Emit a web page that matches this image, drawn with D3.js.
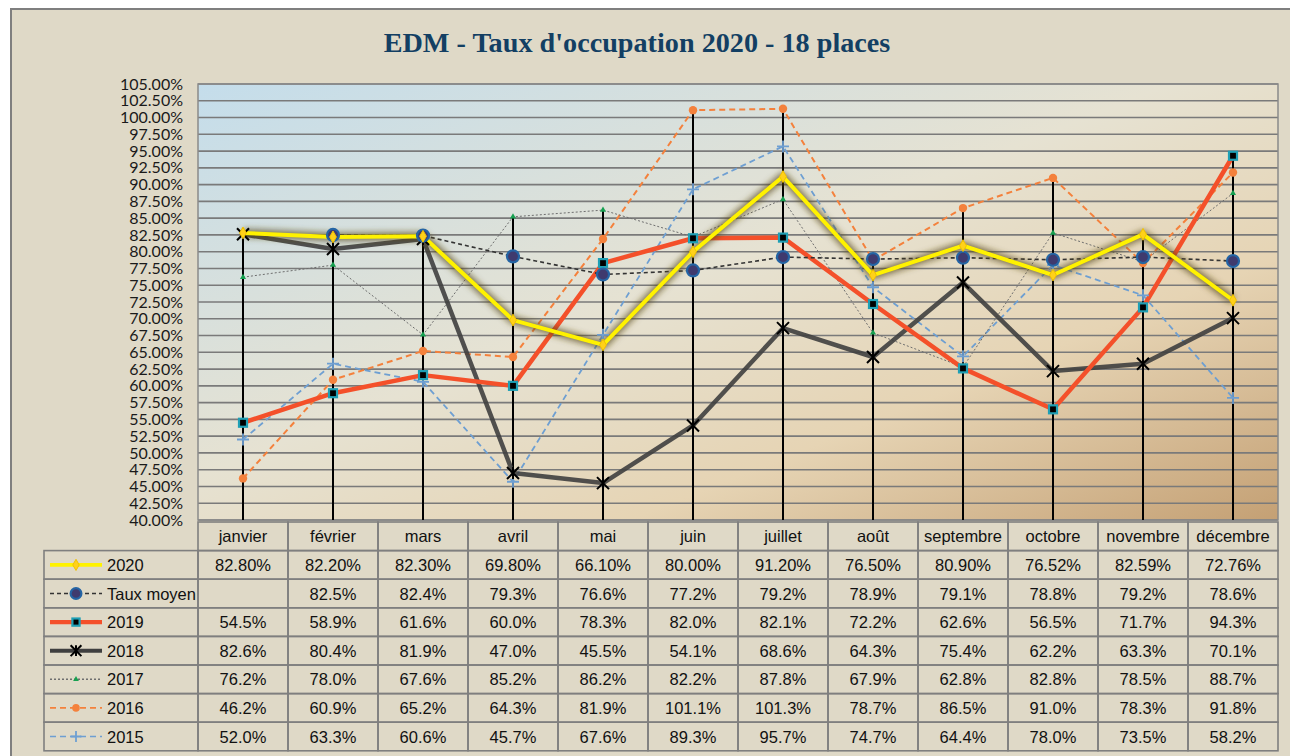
<!DOCTYPE html>
<html>
<head>
<meta charset="utf-8">
<script src="https://cdn.jsdelivr.net/npm/d3@7"></script>
<style>
  body { margin: 0; background: #fff; }
  svg { display: block; }
</style>
</head>
<body>
<svg width="1290" height="756"></svg>
<script>
var months = ["janvier", "février", "mars", "avril", "mai", "juin", "juillet", "août", "septembre", "octobre", "novembre", "décembre"];

var s2020 = [82.8, 82.2, 82.3, 69.8, 66.1, 80.0, 91.2, 76.5, 80.9, 76.52, 82.59, 72.76];
var moyen = [null, 82.5, 82.4, 79.3, 76.6, 77.2, 79.2, 78.9, 79.1, 78.8, 79.2, 78.6];
var s2019 = [54.5, 58.9, 61.6, 60.0, 78.3, 82.0, 82.1, 72.2, 62.6, 56.5, 71.7, 94.3];
var s2018 = [82.6, 80.4, 81.9, 47.0, 45.5, 54.1, 68.6, 64.3, 75.4, 62.2, 63.3, 70.1];
var s2017 = [76.2, 78.0, 67.6, 85.2, 86.2, 82.2, 87.8, 67.9, 62.8, 82.8, 78.5, 88.7];
var s2016 = [46.2, 60.9, 65.2, 64.3, 81.9, 101.1, 101.3, 78.7, 86.5, 91.0, 78.3, 91.8];
var s2015 = [52.0, 63.3, 60.6, 45.7, 67.6, 89.3, 95.7, 74.7, 64.4, 78.0, 73.5, 58.2];

var yTicks = [40, 42.5, 45, 47.5, 50, 52.5, 55, 57.5, 60, 62.5, 65, 67.5, 70, 72.5, 75, 77.5, 80, 82.5, 85, 87.5, 90, 92.5, 95, 97.5, 100, 102.5, 105];

var title = "EDM - Taux d'occupation 2020 - 18 places";

// series, in table order
var series = [
  {name: "2020", values: s2020, dec: 2, color: "#FFF200", width: 4, dash: null, marker: "diamond", glow: true},
  {name: "Taux moyen", values: moyen, dec: 1, color: "#333", width: 1.6, dash: "4,3", marker: "circle"},
  {name: "2019", values: s2019, dec: 1, color: "#F4502A", width: 4.5, dash: null, marker: "square"},
  {name: "2018", values: s2018, dec: 1, color: "#3f3f3f", width: 4.5, dash: null, marker: "star", opacity: 0.9},
  {name: "2017", values: s2017, dec: 1, color: "#6e6e6e", width: 1, dash: "2,2", marker: "triangle"},
  {name: "2016", values: s2016, dec: 1, color: "#F4813C", width: 2, dash: "6,4", marker: "dot"},
  {name: "2015", values: s2015, dec: 1, color: "#6E9FD2", width: 1.8, dash: "6,4", marker: "plus"}
];

var svg = d3.select("svg");
var pLeft = 198, pRight = 1278, pTop = 84, pBottom = 520;

var defs = svg.append("defs");
var grad = defs.append("linearGradient").attr("id", "bg")
  .attr("x1", "0%").attr("y1", "0%").attr("x2", "100%").attr("y2", "100%");
grad.append("stop").attr("offset", "0%").attr("stop-color", "#C4DDEB");
grad.append("stop").attr("offset", "45%").attr("stop-color", "#E6E2D2");
grad.append("stop").attr("offset", "70%").attr("stop-color", "#E6D4B4");
grad.append("stop").attr("offset", "100%").attr("stop-color", "#C4A074");

var glow = defs.append("filter").attr("id", "glow")
  .attr("x", "-10%").attr("y", "-10%").attr("width", "120%").attr("height", "120%");
glow.append("feGaussianBlur").attr("stdDeviation", 3);

// outer frame
svg.append("rect").attr("x", 11).attr("y", 9).attr("width", 1300).attr("height", 760)
  .attr("fill", "#DFD9C7").attr("stroke", "#7f7f7f").attr("stroke-width", 2);

var titleText = svg.append("text")
  .attr("x", 637).attr("y", 52)
  .attr("text-anchor", "middle")
  .attr("font-family", "Liberation Serif, serif")
  .attr("font-weight", "bold")
  .attr("font-size", 28)
  .attr("fill", "#133F63")
  .text(title);
var tl = titleText.node().getComputedTextLength();
titleText.attr("font-size", 28 * 507 / tl);

var x = d3.scaleBand().domain(months).range([pLeft, pRight]).padding(0);
var y = d3.scaleLinear().domain([40, 105]).range([pBottom, pTop]);
function cx(i) { return x(months[i]) + x.bandwidth() / 2; }

// plot area
svg.append("rect").attr("x", pLeft).attr("y", pTop)
  .attr("width", pRight - pLeft).attr("height", pBottom - pTop)
  .attr("fill", "url(#bg)");

// gridlines
svg.append("g").selectAll("line").data(yTicks).enter().append("line")
  .attr("x1", pLeft).attr("x2", pRight)
  .attr("y1", function(d) { return y(d); }).attr("y2", function(d) { return y(d); })
  .attr("stroke", "#7a7a7a").attr("stroke-width", 1.6);

svg.append("rect").attr("x", pLeft).attr("y", pTop)
  .attr("width", pRight - pLeft).attr("height", pBottom - pTop)
  .attr("fill", "none").attr("stroke", "#8a8a8a").attr("stroke-width", 1.5);

// y axis labels
var yAxis = svg.append("g")
  .attr("transform", "translate(183,0)")
  .call(d3.axisLeft(y).tickValues(yTicks).tickSize(0).tickPadding(0)
    .tickFormat(function(d) { return d3.format(".2f")(d) + "%"; }));
yAxis.select(".domain").remove();
yAxis.selectAll("text")
  .attr("font-family", "Lato, sans-serif")
  .attr("font-size", 16)
  .attr("fill", "#1a1a1a");

// drop lines (max value to axis)
svg.append("g").selectAll("line").data(months).enter().append("line")
  .attr("x1", function(d, i) { return cx(i); })
  .attr("x2", function(d, i) { return cx(i); })
  .attr("y1", function(d, i) {
    return y(d3.max(series, function(s) { return s.values[i]; }));
  })
  .attr("y2", pBottom)
  .attr("stroke", "#000").attr("stroke-width", 2);

function drawMarker(g, type, px, py, scale) {
  scale = scale || 1;
  if (type == "diamond") {
    g.append("path").attr("d", d3.symbol(d3.symbolDiamond, 40 * scale)())
      .attr("transform", "translate(" + px + "," + py + ")")
      .attr("fill", "#FFD11A").attr("stroke", "#F2C200").attr("stroke-width", 1);
  } else if (type == "circle") {
    g.append("circle").attr("cx", px).attr("cy", py).attr("r", 6 * scale)
      .attr("fill", "#3f3a6e").attr("stroke", "#2464a4").attr("stroke-width", 2.2);
  } else if (type == "square") {
    var s = 8 * scale;
    g.append("rect").attr("x", px - s / 2).attr("y", py - s / 2).attr("width", s).attr("height", s)
      .attr("fill", "#000").attr("stroke", "#1E9FB5").attr("stroke-width", 2.2);
  } else if (type == "star") {
    var r = 6 * scale;
    g.append("path")
      .attr("d", "M" + (px - r) + "," + (py - r) + "L" + (px + r) + "," + (py + r) +
        "M" + (px - r) + "," + (py + r) + "L" + (px + r) + "," + (py - r) +
        "M" + px + "," + (py - r) + "L" + px + "," + (py + r))
      .attr("stroke", "#000").attr("stroke-width", 2).attr("fill", "none");
  } else if (type == "triangle") {
    g.append("path").attr("d", d3.symbol(d3.symbolTriangle, 16 * scale)())
      .attr("transform", "translate(" + px + "," + py + ")")
      .attr("fill", "#16A050");
  } else if (type == "dot") {
    g.append("circle").attr("cx", px).attr("cy", py).attr("r", 4.2 * scale)
      .attr("fill", "#F4813C");
  } else if (type == "plus") {
    var p = 6 * scale;
    g.append("path")
      .attr("d", "M" + (px - p) + "," + py + "L" + (px + p) + "," + py +
        "M" + px + "," + (py - p) + "L" + px + "," + (py + p))
      .attr("stroke", "#6E9FD2").attr("stroke-width", 1.8);
  }
}

var line = d3.line()
  .defined(function(d) { return d != null; })
  .x(function(d, i) { return cx(i); })
  .y(function(d) { return y(d); });

var lines = svg.append("g");
var drawOrder = series.slice().reverse();
drawOrder.forEach(function(s) {
  if (s.glow) {
    lines.append("path").datum(s.values).attr("d", line)
      .attr("fill", "none").attr("stroke", "#5a4a1a").attr("stroke-opacity", 0.75)
      .attr("stroke-width", 8).attr("stroke-linejoin", "round")
      .attr("filter", "url(#glow)");
  }
  lines.append("path").datum(s.values).attr("d", line)
    .attr("fill", "none")
    .attr("stroke", s.color)
    .attr("stroke-width", s.width)
    .attr("stroke-opacity", s.opacity || 1)
    .attr("stroke-dasharray", s.dash)
    .attr("stroke-linejoin", "round");
});
var marks = svg.append("g");
drawOrder.forEach(function(s) {
  s.values.forEach(function(v, i) {
    if (v != null) drawMarker(marks, s.marker, cx(i), y(v));
  });
});

// data table
var rowH = 28.6;
var headTop = 522;
var tbl = svg.append("g")
  .attr("font-family", "Liberation Sans, Arial, sans-serif")
  .attr("font-size", 16.5)
  .attr("fill", "#111");
var gridColor = "#7f7f7f";

// header
tbl.selectAll(".hcell").data(months).enter().append("rect")
  .attr("x", function(d) { return x(d); }).attr("y", headTop)
  .attr("width", x.bandwidth()).attr("height", rowH)
  .attr("fill", "none").attr("stroke", gridColor).attr("stroke-width", 1.6);
tbl.selectAll(".htext").data(months).enter().append("text")
  .attr("x", function(d, i) { return cx(i); })
  .attr("y", headTop + rowH / 2 + 6)
  .attr("text-anchor", "middle")
  .text(function(d) { return d; });

series.forEach(function(s, r) {
  var ry = headTop + rowH * (r + 1);
  var mid = ry + rowH / 2;
  tbl.append("rect").attr("x", 44).attr("y", ry).attr("width", pLeft - 44).attr("height", rowH)
    .attr("fill", "none").attr("stroke", gridColor).attr("stroke-width", 1.6);
  months.forEach(function(m, i) {
    tbl.append("rect").attr("x", x(m)).attr("y", ry).attr("width", x.bandwidth()).attr("height", rowH)
      .attr("fill", "none").attr("stroke", gridColor).attr("stroke-width", 1.6);
    if (s.values[i] != null) {
      tbl.append("text").attr("x", cx(i)).attr("y", mid + 6)
        .attr("text-anchor", "middle")
        .text(s.values[i].toFixed(s.dec) + "%");
    }
  });
  // legend key
  tbl.append("line").attr("x1", 50).attr("x2", 102).attr("y1", mid).attr("y2", mid)
    .attr("stroke", s.color).attr("stroke-width", Math.max(s.width * 0.9, 1.4))
    .attr("stroke-dasharray", s.dash);
  drawMarker(tbl, s.marker, 76, mid, 0.9);
  tbl.append("text").attr("x", 107).attr("y", mid + 6).text(s.name);
});
</script>
</body>
</html>
